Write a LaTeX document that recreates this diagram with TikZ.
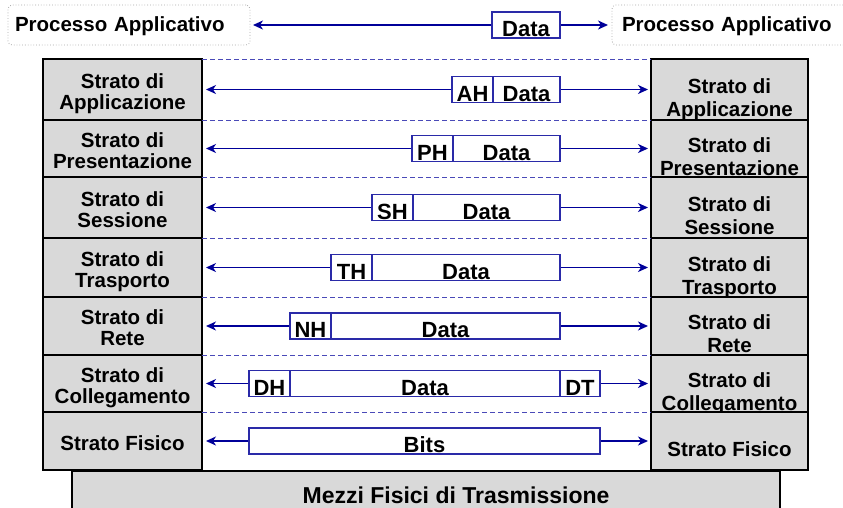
\documentclass[tikz,border=0pt]{standalone}
\usepackage{fontspec}
\setmainfont{Liberation Sans}
\usetikzlibrary{arrows.meta,calc}

\definecolor{cellgray}{HTML}{D9D9D9}
\definecolor{arrowblue}{HTML}{000099}
\definecolor{boxblue}{HTML}{2A2AA8}
\definecolor{dashblue}{HTML}{4A4AB8}
\definecolor{procgray}{HTML}{A8A8A8}

\newcommand\labfont{\fontsize{20.5}{21}\selectfont\bfseries}
\newcommand\pktfont{\fontsize{22}{22}\selectfont\bfseries}

\begin{document}
\begin{tikzpicture}[x=1pt,y=-1pt,
    cellL/.style={draw=black,line width=1.6pt,fill=cellgray,minimum width=159pt,
                  inner sep=0pt,outer sep=0pt},
    cellR/.style={cellL,minimum width=157pt},
    lblL/.style={align=center,font=\labfont,inner sep=0pt,text depth=0pt},
    lblR/.style={lblL,font=\fontsize{20.5}{23}\selectfont\bfseries},
    layersep/.style={draw=dashblue,line width=1pt,dash pattern=on 5pt off 3pt},
    biarrow/.style={draw=arrowblue,line width=1.9pt,
                    {Stealth[length=10pt,width=9pt,inset=3pt]}-{Stealth[length=10pt,width=9pt,inset=3pt]}},
    pkt/.style={draw=boxblue,line width=1.2pt,fill=white,minimum height=26pt,
                inner xsep=0pt,inner ysep=0.5pt,text height=24pt,text depth=1pt,
                outer sep=0pt,font=\pktfont},
    proc/.style={draw=procgray,dotted,line width=0.8pt,rounded corners=4pt,
                 minimum height=40pt,align=left,text height=17pt,text depth=4pt,
                 outer sep=0pt,font=\labfont}]
  \useasboundingbox (0,0) rectangle (843,507);

  % application processes on top
  \node[proc,anchor=west,inner xsep=7pt,text width=228pt] (procL) at (8,25)
    {Processo Applicativo};
  \node[proc,anchor=west,inner xsep=10pt,text width=232pt] (procR) at (612,25)
    {Processo Applicativo};
  \draw[biarrow,shorten <=3pt,shorten >=4pt] (procL.east) -- (procR.west);
  \node[pkt,minimum width=68pt,anchor=west] (top) at (492,0 |- procL.east) {Data};

  % the seven layers, left and right stacks
  \foreach \i/\ya/\yb/\name in {1/59/120/{Strato di\\Applicazione},
      2/120/177/{Strato di\\Presentazione},3/177/238/{Strato di\\Sessione},
      4/238/297/{Strato di\\Trasporto},5/297/355/{Strato di\\Rete},
      6/355/412/{Strato di\\Collegamento},7/412/470/{Strato Fisico}} {
    \pgfmathsetmacro\yc{(\ya+\yb)/2}
    \pgfmathsetmacro\hh{\yb-\ya}
    \node[cellL,minimum height=\hh pt] (L\i) at (122.5,\yc) {};
    \node[cellR,minimum height=\hh pt] (R\i) at (729.5,\yc) {};
    \node[lblL] (Lt\i) at ([yshift=-2pt]L\i.center) {\name};
    \node[lblR] (Rt\i) at ([yshift=-8pt]R\i.center) {\name};
    \draw[layersep] (L\i.north east) -- (R\i.north west);
    \draw[biarrow,shorten <=4pt,shorten >=3pt] (L\i.east) -- (R\i.west);
  }

  % headers + data
  \foreach \i/\h/\hx in {1/AH/452,2/PH/412,3/SH/372,4/TH/331,5/NH/290,6/DH/249} {
    \pgfmathsetmacro\dw{560-\hx-41}
    \node[pkt,minimum width=41pt,anchor=west] (H\i) at (\hx,0 |- L\i.east) {\h};
    \node[pkt,minimum width=\dw pt,anchor=west] (D\i) at (H\i.east) {Data};
  }
  \node[pkt,minimum width=40pt,anchor=west] (T6) at (D6.east) {DT};
  \node[pkt,minimum width=351pt,anchor=west] (B7) at (249,0 |- L7.east) {Bits};

  % physical medium
  \node[draw=black,line width=1.6pt,fill=cellgray,minimum width=708pt,
        minimum height=44pt,outer sep=0pt] (mezzi) at (426,493) {};
  \node[anchor=base,inner sep=0pt,font=\fontsize{23}{23}\selectfont\bfseries]
    (mezzitxt) at (456,503) {Mezzi Fisici di Trasmissione};
\end{tikzpicture}
\end{document}
